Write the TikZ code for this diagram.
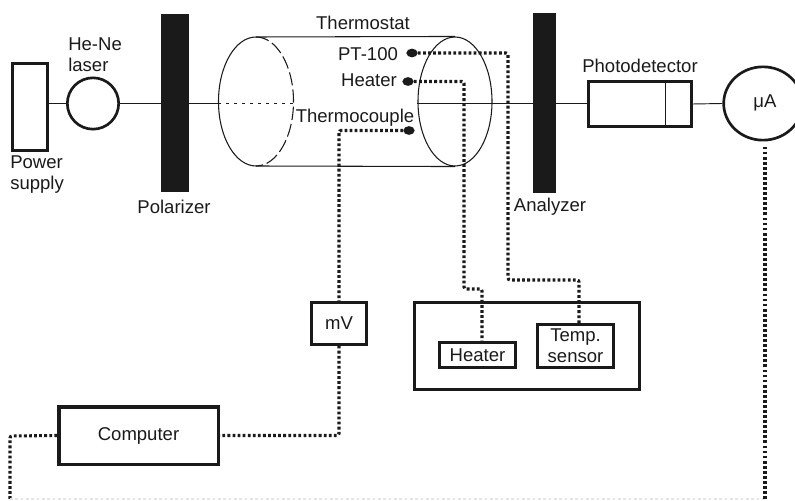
\documentclass[tikz,border=0pt]{standalone}
\usepackage{xcolor}
\usepackage{fontspec}
\setmainfont{Liberation Sans}
\usepackage{tikz}
\usetikzlibrary{calc,shapes.geometric}
\definecolor{ink}{HTML}{1A1A1A}
\definecolor{faint}{HTML}{E4E4E4}
\tikzset{
  lab/.style={text=ink, font=\fontsize{13.9}{16}\selectfont, inner sep=0pt, align=left},
  thin line/.style={draw=ink, line width=0.8pt},
  beam/.style={draw=ink, line width=0.7pt},
  unit/.style={draw=ink, line width=2pt, rectangle, inner sep=0pt, text=ink, font=\fontsize{13.9}{16}\selectfont, align=center},
  plate/.style={fill=ink, rectangle, inner sep=0pt},
  probe/.style={fill=ink, ellipse, inner sep=0pt, minimum width=8.5pt, minimum height=6.5pt},
  wire/.style={draw=ink, line width=2.3pt, dash pattern=on 2.1pt off 1.7pt, rounded corners=1.5pt},
}
\begin{document}
\begin{tikzpicture}[x=0.75pt,y=0.75pt]
\useasboundingbox (0,0) rectangle (795,500);
\clip (0,0) rectangle (795,500);
\node[unit, minimum width=26pt, minimum height=65pt] (supply) at (30,393) {};
\node[unit, circle, minimum size=38.5pt] (laser) at (93,396.5) {};
\node[plate, minimum width=21pt, minimum height=133.5pt] (polarizer) at (175,397) {};
\node[plate, minimum width=17.25pt, minimum height=135pt] (analyzer) at (544.5,397) {};
\node[unit, minimum width=77pt, minimum height=33.5pt] (detector) at (640,396) {};
\node[unit, ellipse, minimum width=59pt, minimum height=55pt] (meter) at (763,396.5) {};
\node[lab] (metertext) at (765,397) {μA};
\node[thin line, ellipse, inner sep=0pt, minimum width=55.5pt, minimum height=96.75pt] (rightend) at (455,398.5) {};
\node[unit, minimum width=41pt, minimum height=31.25pt] (mv) at (339,176.5) {mV};
\node[unit, line width=2.5pt, minimum width=119.5pt, minimum height=43pt] (computer) at (138.5,64.5) {Computer};
\node[unit, minimum width=168.5pt, minimum height=65pt] (controller) at (527,154) {};
\node[unit, minimum width=56.75pt, minimum height=18.5pt] (heaterbox) at (477.5,145) {Heater};
\node[unit, minimum width=56.75pt, minimum height=32pt] (sensorbox) at (575.5,154) {Temp.\\ sensor};
\node[probe] (probept) at (412,447) {};
\node[probe] (probeheat) at (408,418.5) {};
\node[probe] (probecouple) at (409,369.5) {};

\coordinate (lefttop) at (256,463);
\coordinate (leftbottom) at (256,334);
\coordinate (leftwest) at (218,397);
\coordinate (leftdash) at (293,397);
\coordinate (bendpt) at (508,447);
\coordinate (bendptb) at (508,220);
\coordinate (bendptc) at (579,220);
\coordinate (bendheat) at (464,418.5);
\coordinate (bendheatb) at (464,211);
\coordinate (bendheatc) at (482,211);
\coordinate (bendcouple) at (339,369.5);
\coordinate (cornerleft) at (10,64);
\coordinate (bottomleft) at (10,1);
\coordinate (bottomright) at (765,1);

\draw[thin line] (lefttop) arc[start angle=90, end angle=270, x radius=28.125pt, y radius=48.375pt];
\draw[thin line, dash pattern=on 10pt off 3pt] (lefttop) arc[start angle=90, end angle=-90, x radius=28.125pt, y radius=48.375pt];
\draw[thin line] (lefttop) -- (rightend.north);
\draw[thin line] (leftbottom) -- (rightend.south);
\draw[draw=ink, line width=0.4pt, dash pattern=on 2pt off 4pt] (leftwest) -- (leftdash);

\draw[beam] (supply.east |- laser.west) -- (laser.west);
\draw[beam] (laser.east) -- (polarizer.west |- laser.east);
\draw[beam] (polarizer.east) -- (leftwest);
\draw[beam] (rightend.west |- analyzer.west) -- (analyzer.west);
\draw[beam] (analyzer.east) -- (detector.west |- analyzer.east);
\draw[beam] (detector.east) -- (meter.west);
\draw[thin line] ($(detector.north west)!0.74!(detector.north east)$) -- ($(detector.south west)!0.74!(detector.south east)$);

\draw[wire] (probept) -- (bendpt) -- (bendptb) -- (bendptc) -- (bendptc |- sensorbox.north);
\draw[wire] (probeheat) -- (bendheat) -- (bendheatb) -- (bendheatc) -- (bendheatc |- heaterbox.north);
\draw[wire] (probecouple) -- (bendcouple) -- (bendcouple |- mv.north);
\draw[wire] (mv.south) |- (computer.east);
\draw[wire] (computer.west) -- (cornerleft) -- (bottomleft);
\draw[draw=faint, line width=1pt, dash pattern=on 2pt off 2pt] (bottomleft) -- (bottomright);
\draw[wire] (bottomright) -- ([yshift=-2.5pt]bottomright |- meter.south);

\node[lab] (thermostat) at (363,477) {Thermostat};
\node[lab] (ptlabel) at (368,445.5) {PT-100};
\node[lab] (heaterlabel) at (369,420) {Heater};
\node[lab] (couplelabel) at (355,382) {Thermocouple};
\node[lab, anchor=west] (laserlabel) at (68,445.5) {He-Ne\\laser};
\node[lab, anchor=west] (supplylabel) at (10,325.5) {Power\\supply};
\node[lab] (polarizerlabel) at (174,293) {Polarizer};
\node[lab] (analyzerlabel) at (550,293) {Analyzer};
\node[lab] (detectorlabel) at (640,434) {Photodetector};
\end{tikzpicture}
\end{document}
